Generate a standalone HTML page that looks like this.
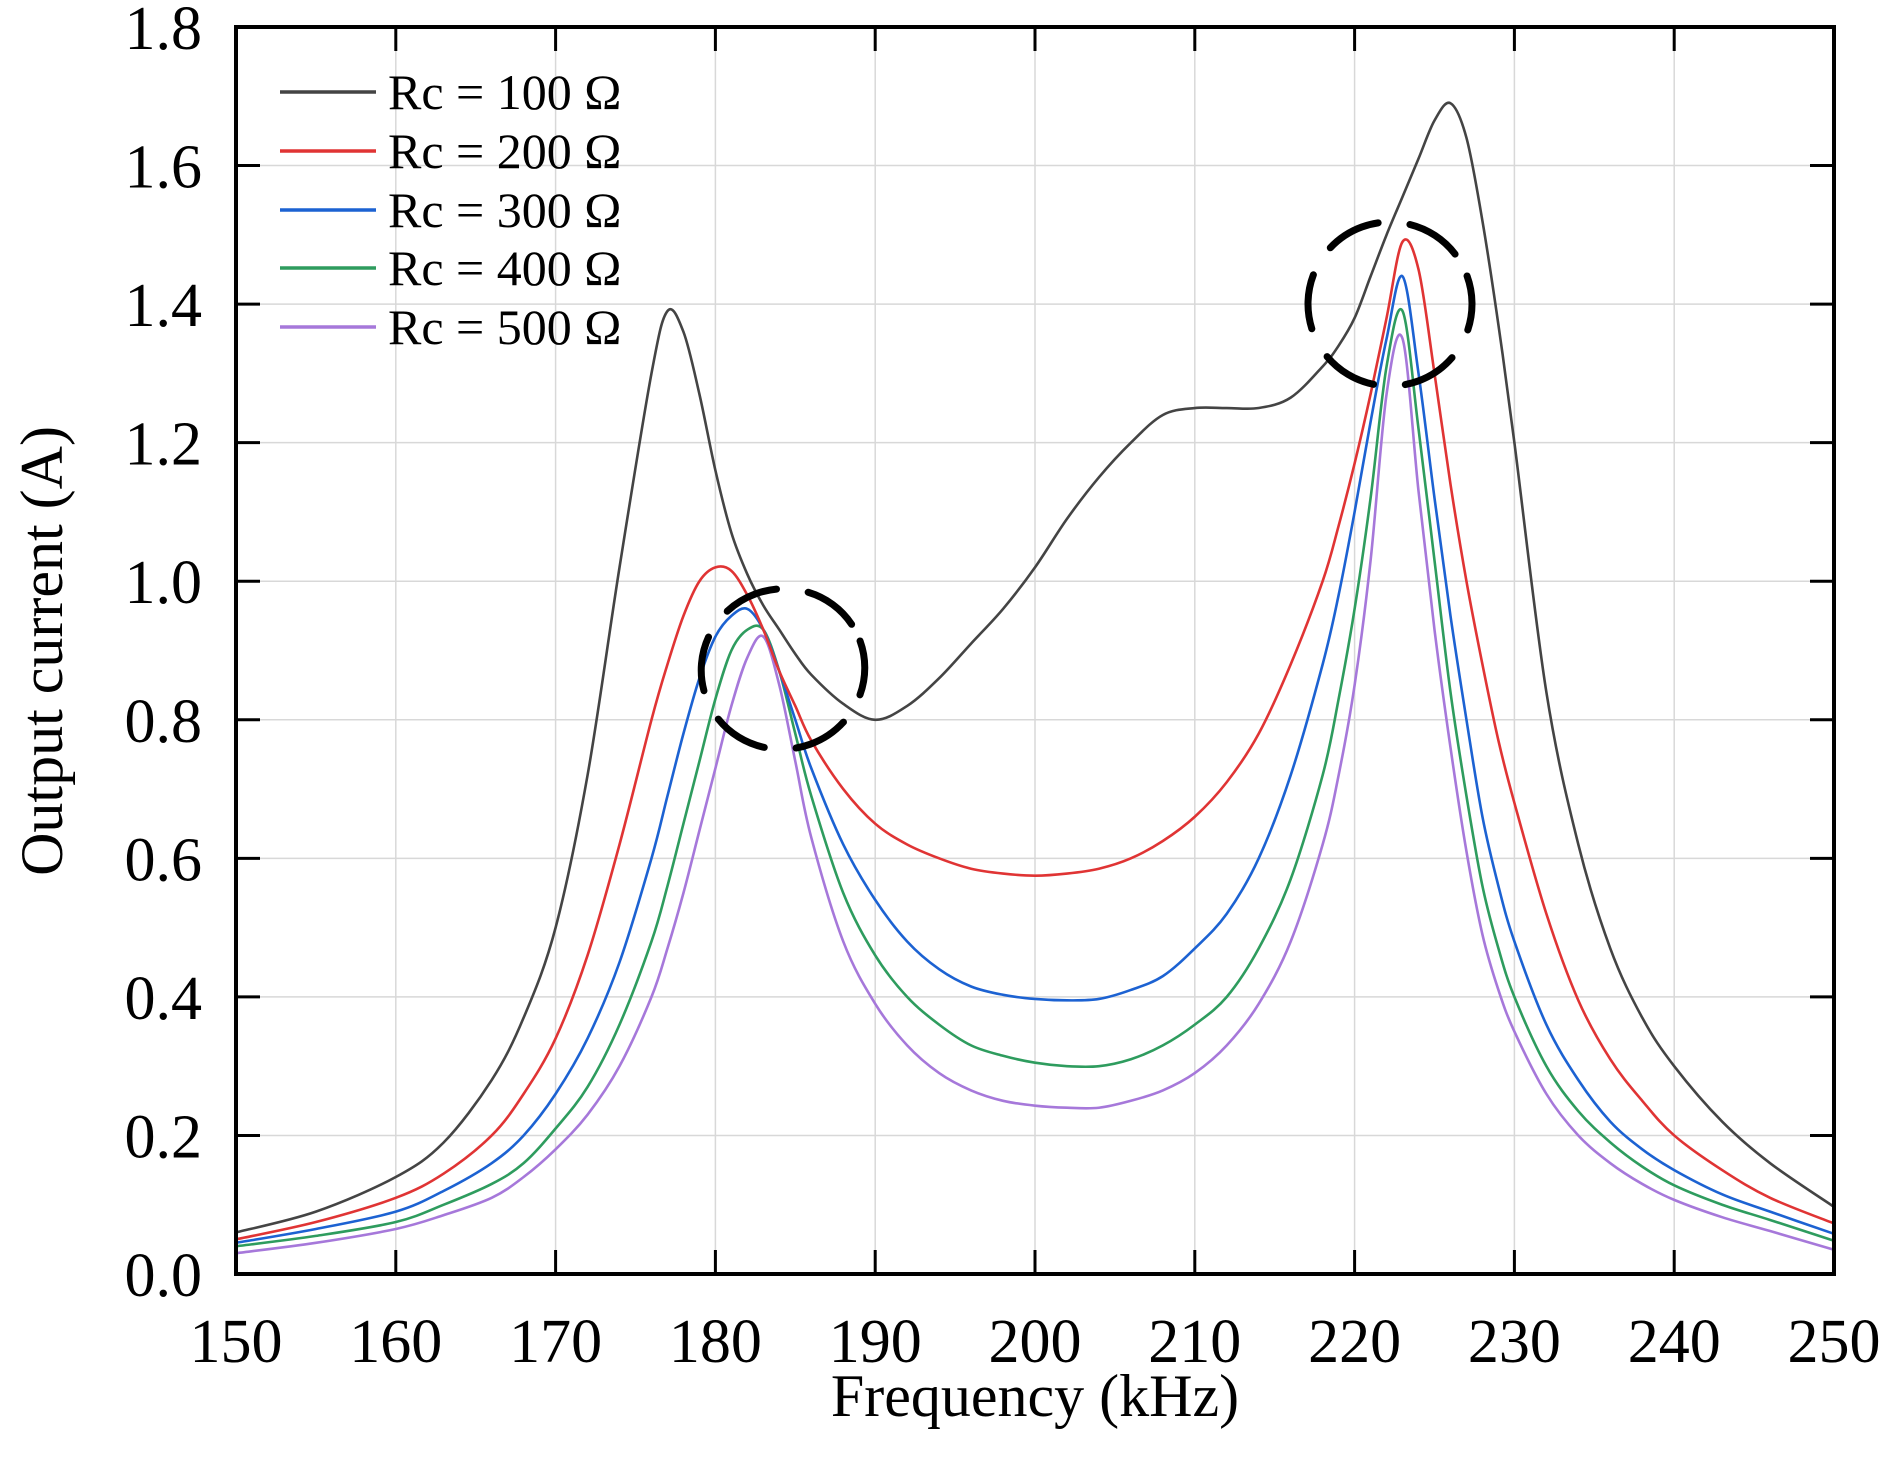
<!DOCTYPE html>
<html><head><meta charset="utf-8"><style>
html,body{margin:0;padding:0;background:#fff;}
svg{display:block;font-family:"Liberation Serif",serif;}
</style></head><body>
<svg id="chart" width="1890" height="1464" viewBox="0 0 1890 1464"></svg>
<script>
const freqs=[150,155,160,163,166,168,170,172,174,176,177,178,179,180,181,182,183,184,185,186,188,190,192,194,196,198,200,202,204,206,208,210,212,214,216,218,219,220,221,222,223,224,225,226,227,228,229,230,232,234,236,238,240,243,246,250];
const rc100=[0.06,0.09,0.14,0.19,0.28,0.37,0.5,0.72,1.02,1.3,1.39,1.36,1.27,1.16,1.07,1.01,0.965,0.93,0.895,0.865,0.823,0.8,0.82,0.86,0.91,0.96,1.02,1.09,1.15,1.2,1.24,1.25,1.25,1.25,1.265,1.31,1.34,1.38,1.44,1.5,1.555,1.61,1.665,1.69,1.64,1.52,1.37,1.2,0.84,0.62,0.47,0.37,0.3,0.22,0.16,0.097];
const rc200=[0.05,0.075,0.11,0.145,0.2,0.26,0.34,0.46,0.62,0.8,0.88,0.95,1.0,1.02,1.015,0.98,0.93,0.87,0.82,0.77,0.7,0.65,0.62,0.6,0.585,0.578,0.575,0.578,0.585,0.6,0.625,0.66,0.71,0.78,0.88,1.0,1.08,1.17,1.27,1.38,1.49,1.45,1.3,1.14,1.0,0.88,0.77,0.68,0.52,0.395,0.31,0.25,0.2,0.15,0.11,0.073];
const rc300=[0.045,0.065,0.09,0.12,0.16,0.2,0.26,0.34,0.45,0.6,0.69,0.78,0.86,0.92,0.95,0.96,0.93,0.87,0.8,0.73,0.62,0.54,0.48,0.44,0.415,0.403,0.397,0.395,0.397,0.41,0.43,0.47,0.52,0.6,0.72,0.88,0.98,1.1,1.23,1.35,1.44,1.3,1.12,0.95,0.8,0.66,0.56,0.48,0.36,0.28,0.22,0.18,0.15,0.115,0.09,0.058];
const rc400=[0.04,0.055,0.075,0.1,0.13,0.16,0.21,0.27,0.36,0.48,0.56,0.65,0.74,0.83,0.9,0.93,0.93,0.87,0.78,0.69,0.55,0.46,0.4,0.36,0.33,0.315,0.305,0.3,0.3,0.31,0.33,0.36,0.4,0.47,0.57,0.72,0.83,0.96,1.12,1.31,1.39,1.22,1.03,0.84,0.69,0.56,0.47,0.4,0.3,0.235,0.19,0.155,0.128,0.1,0.078,0.048];
const rc500=[0.03,0.045,0.065,0.085,0.11,0.14,0.18,0.23,0.3,0.4,0.47,0.55,0.64,0.73,0.82,0.89,0.92,0.85,0.74,0.63,0.48,0.39,0.33,0.29,0.265,0.25,0.243,0.24,0.24,0.25,0.265,0.29,0.33,0.39,0.48,0.62,0.72,0.85,1.03,1.27,1.35,1.13,0.93,0.76,0.61,0.49,0.41,0.35,0.26,0.2,0.16,0.13,0.107,0.082,0.062,0.035];
const seriesNames=["Rc = 100 Ω","Rc = 200 Ω","Rc = 300 Ω","Rc = 400 Ω","Rc = 500 Ω"];
const xTicks=[150,160,170,180,190,200,210,220,230,240,250];
const yTicks=[0.0,0.2,0.4,0.6,0.8,1.0,1.2,1.4,1.6,1.8];

const NS="http://www.w3.org/2000/svg";
const svg=document.getElementById('chart');
const L=236,R=1834,T=27,B=1274;
const sx=f=>L+(f-150)/100*(R-L);
const sy=v=>B-v/1.8*(B-T);
function mk(tag,attrs,parent){const e=document.createElementNS(NS,tag);for(const k in attrs)e.setAttribute(k,attrs[k]);(parent||svg).appendChild(e);return e;}

const grid=mk('g',{});


xTicks.forEach(t=>{mk('line',{x1:sx(t),x2:sx(t),y1:T,y2:B,stroke:'#d8d8d8','stroke-width':1.5},grid);});
yTicks.forEach(t=>{mk('line',{x1:L,x2:R,y1:sy(t),y2:sy(t),stroke:'#d8d8d8','stroke-width':1.5},grid);});

const cols=['#444444','#e03434','#1c62d2','#2e9c5e','#a678da'];
const data=[rc100,rc200,rc300,rc400,rc500];
function pathFor(vals){
  const p=freqs.map((f,i)=>[sx(f),sy(vals[i])]);
  let d='M'+p[0][0]+','+p[0][1];
  for(let i=0;i<p.length-1;i++){
    const p0=p[i-1]||p[i],p1=p[i],p2=p[i+1],p3=p[i+2]||p[i+1];
    const c1=[p1[0]+(p2[0]-p0[0])/6,p1[1]+(p2[1]-p0[1])/6];
    const c2=[p2[0]-(p3[0]-p1[0])/6,p2[1]-(p3[1]-p1[1])/6];
    d+=' C'+c1+' '+c2+' '+p2;
  }
  return d;
}
const ids=['series-rc100','series-rc200','series-rc300','series-rc400','series-rc500'];
for(let i=4;i>=0;i--){
  const pe=mk('path',{d:pathFor(data[i]),fill:'none',stroke:cols[i],'stroke-width':2.6,'stroke-linejoin':'round'});
  
  
}

const c1=mk('ellipse',{cx:783,cy:669,rx:82,ry:80,fill:'none',stroke:'#000','stroke-width':7,'stroke-dasharray':'55 32','stroke-linecap':'round',transform:'rotate(-20 783 669)'});


const c2=mk('ellipse',{cx:1390,cy:304,rx:82,ry:82,fill:'none',stroke:'#000','stroke-width':7,'stroke-dasharray':'55 32','stroke-linecap':'round',transform:'rotate(-20 1390 304)'});



const fr=mk('rect',{x:L,y:T,width:R-L,height:B-T,fill:'none',stroke:'#000','stroke-width':4});


xTicks.forEach(t=>{
  mk('line',{x1:sx(t),x2:sx(t),y1:B,y2:B-24,stroke:'#000','stroke-width':3});
  mk('line',{x1:sx(t),x2:sx(t),y1:T,y2:T+24,stroke:'#000','stroke-width':3});
  const tx=mk('text',{x:sx(t),y:1362,'font-size':62,'text-anchor':'middle',fill:'#000'});
  tx.textContent=t;
  
  
});
yTicks.forEach(t=>{
  mk('line',{x1:L,x2:L+24,y1:sy(t),y2:sy(t),stroke:'#000','stroke-width':3});
  mk('line',{x1:R,x2:R-24,y1:sy(t),y2:sy(t),stroke:'#000','stroke-width':3});
  const tx=mk('text',{x:202,y:sy(t)+22,'font-size':62,'text-anchor':'end',fill:'#000'});
  tx.textContent=t.toFixed(1);
  
  
});

const xt=mk('text',{x:1035,y:1416,'font-size':60,'text-anchor':'middle',fill:'#000'});
xt.textContent='Frequency (kHz)';


const yt=mk('text',{x:0,y:0,'font-size':60,'text-anchor':'middle',fill:'#000',transform:'translate(62 651) rotate(-90)'});
yt.textContent='Output current (A)';



const lg=mk('g',{});


const rows=[92,151,210,268,327];
seriesNames.forEach((n,i)=>{
  const g=mk('g',{},lg);
  
  
  mk('line',{x1:280,x2:376,y1:rows[i],y2:rows[i],stroke:cols[i],'stroke-width':3.5},g);
  const tx=mk('text',{x:388,y:rows[i]+17,'font-size':50,fill:'#000'},g);
  tx.textContent=n;
});
</script>
</body></html>
